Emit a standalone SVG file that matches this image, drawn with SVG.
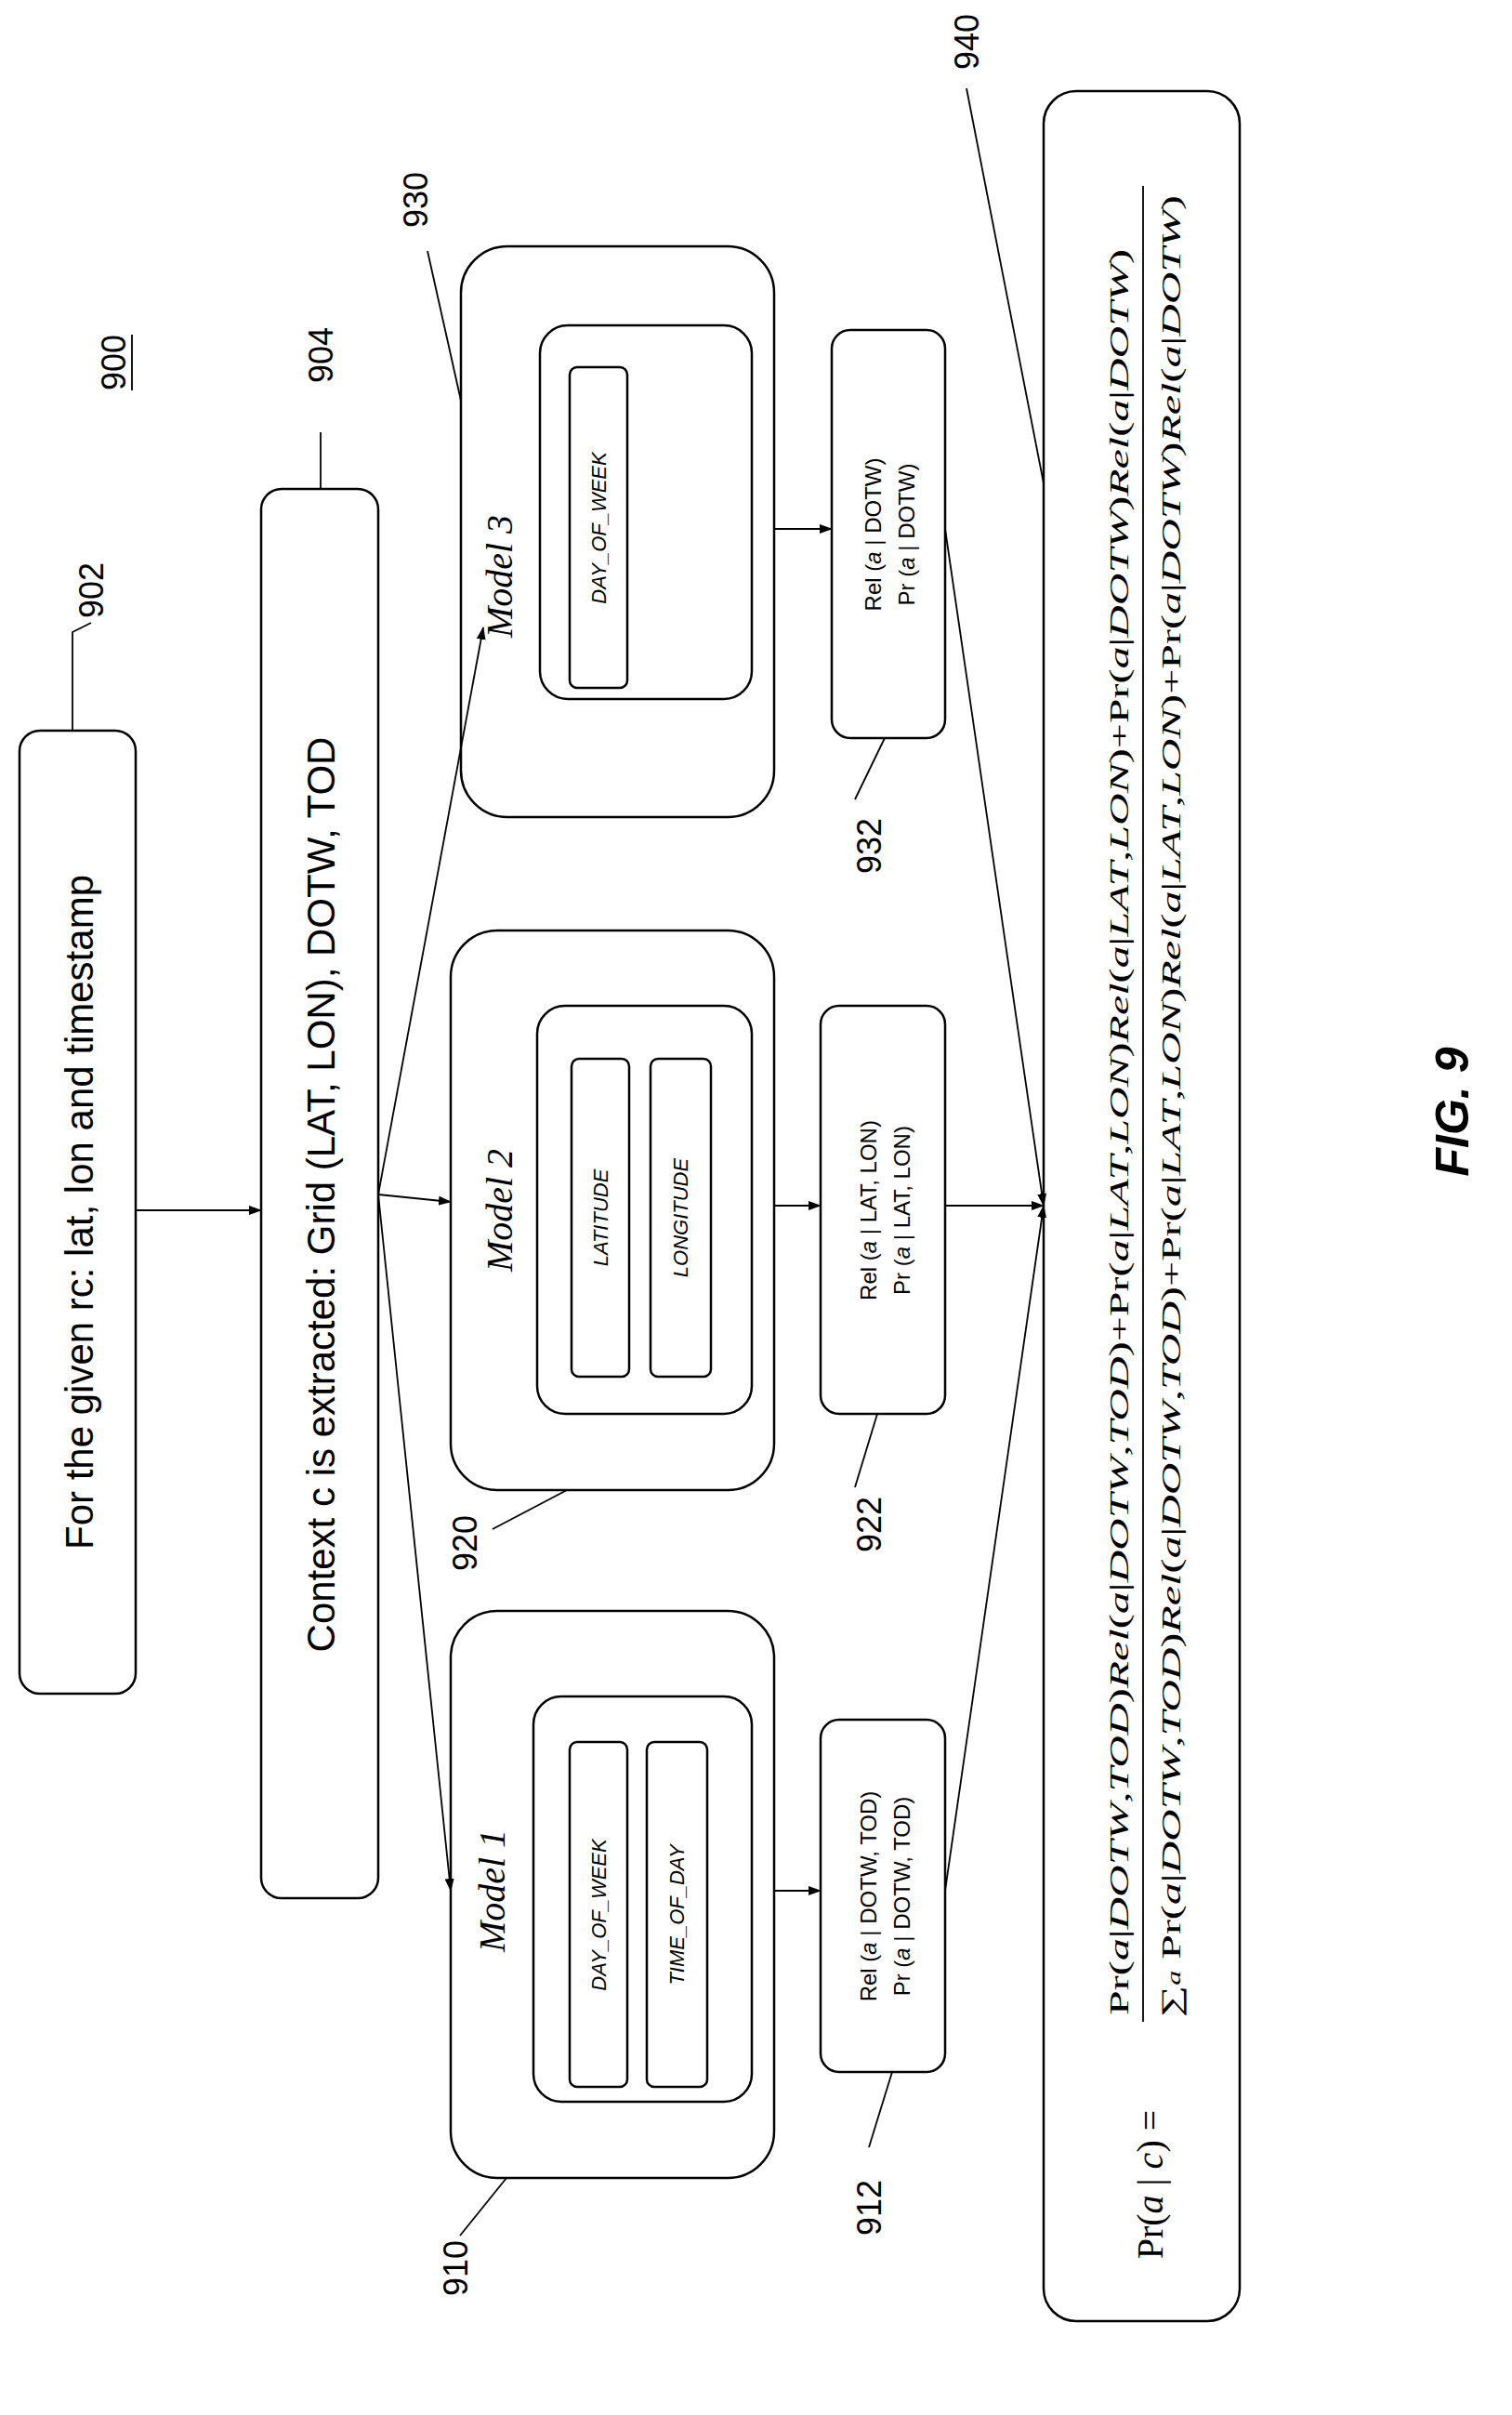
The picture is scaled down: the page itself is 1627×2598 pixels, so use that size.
<svg xmlns="http://www.w3.org/2000/svg" width="1627" height="2598" viewBox="0 0 1627 2598">
<defs>
<style>
.b{fill:none;stroke:#000;stroke-width:2.5}
.l{stroke:#000;stroke-width:1.8;fill:none}
.s{font-family:"Liberation Sans",Arial,sans-serif;fill:#000}
.m{font-family:"Liberation Serif",serif;font-style:italic;fill:#000}
.f{font-family:"Liberation Serif",serif;fill:#000}
</style>
<marker id="a" markerWidth="14" markerHeight="10" refX="13" refY="5" orient="auto" markerUnits="userSpaceOnUse"><path d="M0,0 L14,5 L0,10 z" fill="#000"/></marker>
</defs>
<rect width="1627" height="2598" fill="#fff"/>
<g id="n900"><text class="s" font-size="36" transform="translate(122,390) rotate(-90)" text-anchor="middle" dy=".35em">900</text><line class="l" x1="142" y1="360" x2="142" y2="420"/></g>
<g id="n902"><rect class="b" x="21" y="786" width="125" height="1036" rx="22"/><text class="s" font-size="42" transform="translate(85,1304) rotate(-90)" text-anchor="middle" dy=".35em">For the given rc: lat, lon and timestamp</text>
<text class="s" font-size="36" transform="translate(98,635) rotate(-90)" text-anchor="middle" dy=".35em">902</text></g>
<g id="n904"><rect class="b" x="281" y="526" width="126" height="1516" rx="22"/><text class="s" font-size="42" transform="translate(345,1285) rotate(-90)" text-anchor="middle" dy=".35em">Context c is extracted: Grid (LAT, LON), DOTW, TOD</text>
<text class="s" font-size="36" transform="translate(345,382) rotate(-90)" text-anchor="middle" dy=".35em">904</text></g>
<g id="n930"><rect class="b" x="496" y="265" width="337" height="614" rx="50"/><rect class="b" x="581" y="350" width="228" height="402" rx="30"/><rect class="b" x="613" y="395" width="62" height="345" rx="8"/>
<text class="m" font-size="40" transform="translate(537,620) rotate(-90)" text-anchor="middle" dy=".35em">Model 3</text>
<text class="s" font-style="italic" font-size="22" transform="translate(644,568) rotate(-90)" text-anchor="middle" dy=".35em">DAY_OF_WEEK</text>
<text class="s" font-size="36" transform="translate(447,215) rotate(-90)" text-anchor="middle" dy=".35em">930</text></g>
<g id="n920"><rect class="b" x="485" y="1001" width="348" height="602" rx="50"/><rect class="b" x="578" y="1082" width="231" height="439" rx="30"/><rect class="b" x="615" y="1139" width="62" height="342" rx="8"/><rect class="b" x="700" y="1139" width="65" height="342" rx="8"/>
<text class="m" font-size="40" transform="translate(537,1302) rotate(-90)" text-anchor="middle" dy=".35em">Model 2</text>
<text class="s" font-style="italic" font-size="22" transform="translate(646,1310) rotate(-90)" text-anchor="middle" dy=".35em">LATITUDE</text>
<text class="s" font-style="italic" font-size="22" transform="translate(732,1310) rotate(-90)" text-anchor="middle" dy=".35em">LONGITUDE</text>
<text class="s" font-size="36" transform="translate(500,1660) rotate(-90)" text-anchor="middle" dy=".35em">920</text></g>
<g id="n910"><rect class="b" x="485" y="1733" width="348" height="610" rx="50"/><rect class="b" x="574" y="1825" width="235" height="436" rx="30"/><rect class="b" x="613" y="1874" width="62" height="371" rx="8"/><rect class="b" x="696" y="1874" width="65" height="371" rx="8"/>
<text class="m" font-size="40" transform="translate(529,2034) rotate(-90)" text-anchor="middle" dy=".35em">Model 1</text>
<text class="s" font-style="italic" font-size="22" transform="translate(644,2060) rotate(-90)" text-anchor="middle" dy=".35em">DAY_OF_WEEK</text>
<text class="s" font-style="italic" font-size="22" transform="translate(728,2060) rotate(-90)" text-anchor="middle" dy=".35em">TIME_OF_DAY</text>
<text class="s" font-size="36" transform="translate(490,2440) rotate(-90)" text-anchor="middle" dy=".35em">910</text></g>
<g id="n932"><rect class="b" x="895" y="355" width="122" height="439" rx="20"/>
<text class="s" font-size="24" transform="translate(940,575) rotate(-90)" text-anchor="middle" dy=".35em">Rel (<tspan font-style="italic">a</tspan> | DOTW)</text>
<text class="s" font-size="24" transform="translate(976,575) rotate(-90)" text-anchor="middle" dy=".35em">Pr (<tspan font-style="italic">a</tspan> | DOTW)</text>
<text class="s" font-size="36" transform="translate(935,910) rotate(-90)" text-anchor="middle" dy=".35em">932</text></g>
<g id="n922"><rect class="b" x="883" y="1082" width="134" height="439" rx="20"/>
<text class="s" font-size="24" transform="translate(935,1302) rotate(-90)" text-anchor="middle" dy=".35em">Rel (<tspan font-style="italic">a</tspan> | LAT, LON)</text>
<text class="s" font-size="24" transform="translate(971,1302) rotate(-90)" text-anchor="middle" dy=".35em">Pr (<tspan font-style="italic">a</tspan> | LAT, LON)</text>
<text class="s" font-size="36" transform="translate(935,1640) rotate(-90)" text-anchor="middle" dy=".35em">922</text></g>
<g id="n912"><rect class="b" x="883" y="1850" width="134" height="379" rx="20"/>
<text class="s" font-size="24" transform="translate(935,2040) rotate(-90)" text-anchor="middle" dy=".35em">Rel (<tspan font-style="italic">a</tspan> | DOTW, TOD)</text>
<text class="s" font-size="24" transform="translate(971,2040) rotate(-90)" text-anchor="middle" dy=".35em">Pr (<tspan font-style="italic">a</tspan> | DOTW, TOD)</text>
<text class="s" font-size="36" transform="translate(935,2375) rotate(-90)" text-anchor="middle" dy=".35em">912</text></g>
<g id="n940"><rect class="b" x="1123" y="98" width="211" height="2399" rx="35"/>
<text class="f" font-size="40" transform="translate(1237,2350) rotate(-90)" text-anchor="middle" dy=".35em">Pr(<tspan font-style="italic">a</tspan> | <tspan font-style="italic">c</tspan>) =</text>
<text class="f" font-size="30" transform="translate(1214,1218) rotate(-90)" text-anchor="middle" textLength="1900" lengthAdjust="spacingAndGlyphs">Pr(<tspan font-style="italic">a</tspan>|<tspan font-style="italic">DOTW</tspan>,<tspan font-style="italic">TOD</tspan>)<tspan font-style="italic">Rel</tspan>(<tspan font-style="italic">a</tspan>|<tspan font-style="italic">DOTW</tspan>,<tspan font-style="italic">TOD</tspan>)+Pr(<tspan font-style="italic">a</tspan>|<tspan font-style="italic">LAT</tspan>,<tspan font-style="italic">LON</tspan>)<tspan font-style="italic">Rel</tspan>(<tspan font-style="italic">a</tspan>|<tspan font-style="italic">LAT</tspan>,<tspan font-style="italic">LON</tspan>)+Pr(<tspan font-style="italic">a</tspan>|<tspan font-style="italic">DOTW</tspan>)<tspan font-style="italic">Rel</tspan>(<tspan font-style="italic">a</tspan>|<tspan font-style="italic">DOTW</tspan>)</text>
<line class="l" x1="1230" y1="2175" x2="1230" y2="200" stroke-width="2"/>
<text class="f" font-size="30" transform="translate(1270,1190) rotate(-90)" text-anchor="middle" textLength="1960" lengthAdjust="spacingAndGlyphs">∑<tspan font-style="italic" font-size="20">a</tspan> Pr(<tspan font-style="italic">a</tspan>|<tspan font-style="italic">DOTW</tspan>,<tspan font-style="italic">TOD</tspan>)<tspan font-style="italic">Rel</tspan>(<tspan font-style="italic">a</tspan>|<tspan font-style="italic">DOTW</tspan>,<tspan font-style="italic">TOD</tspan>)+Pr(<tspan font-style="italic">a</tspan>|<tspan font-style="italic">LAT</tspan>,<tspan font-style="italic">LON</tspan>)<tspan font-style="italic">Rel</tspan>(<tspan font-style="italic">a</tspan>|<tspan font-style="italic">LAT</tspan>,<tspan font-style="italic">LON</tspan>)+Pr(<tspan font-style="italic">a</tspan>|<tspan font-style="italic">DOTW</tspan>)<tspan font-style="italic">Rel</tspan>(<tspan font-style="italic">a</tspan>|<tspan font-style="italic">DOTW</tspan>)</text>
<text class="s" font-size="36" transform="translate(1040,45) rotate(-90)" text-anchor="middle" dy=".35em">940</text></g>
<g id="fig"><text class="s" font-size="50" font-weight="bold" font-style="italic" transform="translate(1562,1196) rotate(-90)" text-anchor="middle" dy=".35em">FIG. 9</text></g>
<g id="connectors">
<line class="l" x1="146" y1="1302" x2="281" y2="1302" marker-end="url(#a)"/>
<line class="l" x1="407" y1="1285" x2="520" y2="675" marker-end="url(#a)"/>
<line class="l" x1="407" y1="1285" x2="485" y2="1293" marker-end="url(#a)"/>
<line class="l" x1="407" y1="1285" x2="485" y2="2034" marker-end="url(#a)"/>
<line class="l" x1="833" y1="569" x2="895" y2="569" marker-end="url(#a)"/>
<line class="l" x1="833" y1="1297" x2="883" y2="1297" marker-end="url(#a)"/>
<line class="l" x1="833" y1="2034" x2="883" y2="2034" marker-end="url(#a)"/>
<line class="l" x1="1017" y1="569" x2="1123" y2="1297" marker-end="url(#a)"/>
<line class="l" x1="1017" y1="1297" x2="1123" y2="1297" marker-end="url(#a)"/>
<line class="l" x1="1017" y1="2034" x2="1123" y2="1297" marker-end="url(#a)"/>
<path class="l" d="M78,786 L78,680 L98,670"/>
<line class="l" x1="345" y1="526" x2="345" y2="465"/>
<line class="l" x1="496" y1="431" x2="460" y2="270"/>
<line class="l" x1="1123" y1="520" x2="1040" y2="95"/>
<line class="l" x1="952" y1="794" x2="920" y2="860"/>
<line class="l" x1="944" y1="1521" x2="920" y2="1600"/>
<line class="l" x1="610" y1="1603" x2="530" y2="1645"/>
<line class="l" x1="960" y1="2229" x2="935" y2="2310"/>
<line class="l" x1="545" y1="2343" x2="495" y2="2405"/>
</g>
</svg>
